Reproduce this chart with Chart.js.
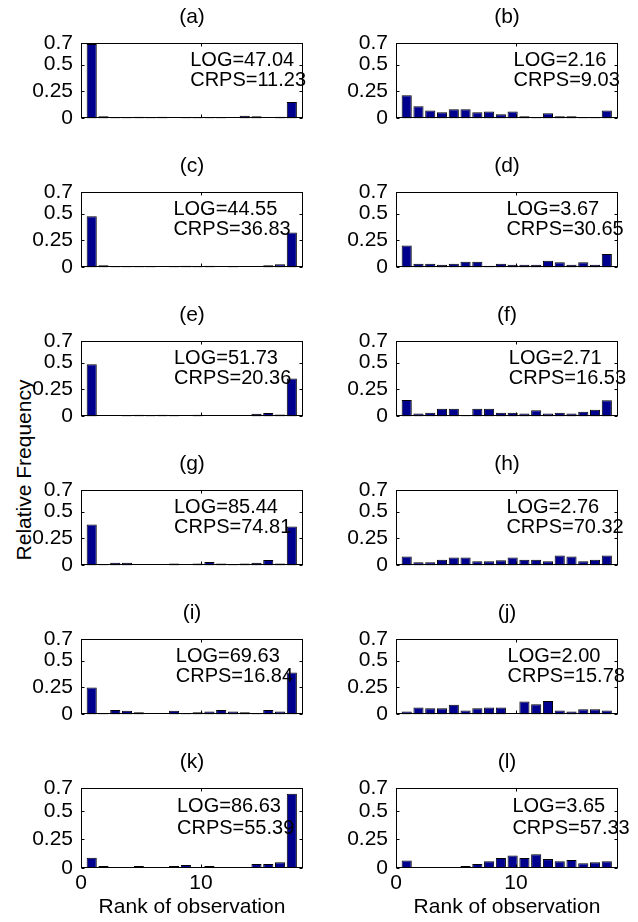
<!DOCTYPE html>
<html>
<head>
<meta charset="utf-8" />
<style>
  body { margin: 0; background: #fff; }
  #fig { position: relative; width: 638px; height: 922px; overflow: hidden; background: #fff;
         font-family: "Liberation Sans", Arial, sans-serif; }
  #fig canvas { position: absolute; }
  .ylab { position: absolute; left: 24px; top: 470px; transform: translate(-50%, -50%) rotate(-90deg);
          font-size: 21px; white-space: nowrap; color: #000; }
</style>
</head>
<body>
<div id="fig">
  <div class="ylab">Relative Frequency</div>
</div>

<script src="https://cdn.jsdelivr.net/npm/chart.js"></script>
<script>
// rank histogram data, one array per panel
const ranks = [1, 2, 3, 4, 5, 6, 7, 8, 9, 10, 11, 12, 13, 14, 15, 16, 17, 18];
const panelNames = ['(a)', '(b)', '(c)', '(d)', '(e)', '(f)', '(g)', '(h)', '(i)', '(j)', '(k)', '(l)'];
const logScores = ['47.04', '2.16', '44.55', '3.67', '51.73', '2.71', '85.44', '2.76', '69.63', '2.00', '86.63', '3.65'];
const crpsScores = ['11.23', '9.03', '36.83', '30.65', '20.36', '16.53', '74.81', '70.32', '16.84', '15.78', '55.39', '57.33'];
const yTicks = [0, 0.25, 0.5, 0.7];
const xTicks = [0, 10];

const freqA = [0.69, 0.02, 0.003, 0.003, 0.015, 0.003, 0.015, 0, 0.003, 0.003, 0.003, 0.003, 0, 0.025, 0.02, 0, 0.015, 0.153];
const freqB = [0.215, 0.112, 0.074, 0.056, 0.085, 0.085, 0.056, 0.065, 0.038, 0.065, 0.02, 0.012, 0.047, 0.02, 0.02, 0.012, 0.012, 0.074];
const freqC = [0.476, 0.02, 0.003, 0.003, 0.003, 0.003, 0, 0.003, 0.015, 0.005, 0.015, 0, 0.003, 0, 0, 0.02, 0.03, 0.324];
const freqD = [0.203, 0.035, 0.035, 0.024, 0.035, 0.053, 0.053, 0.015, 0.035, 0.024, 0.024, 0.024, 0.062, 0.047, 0.024, 0.047, 0.024, 0.124];
const freqE = [0.485, 0, 0, 0.01, 0.015, 0.01, 0.015, 0.01, 0, 0.015, 0, 0, 0, 0, 0.024, 0.032, 0.018, 0.353];
const freqF = [0.153, 0.026, 0.035, 0.07, 0.07, 0.01, 0.07, 0.07, 0.035, 0.035, 0.026, 0.056, 0.026, 0.035, 0.026, 0.044, 0.062, 0.15];
const freqG = [0.38, 0.01, 0.024, 0.024, 0, 0, 0, 0.018, 0, 0.018, 0.032, 0.018, 0.009, 0.018, 0.024, 0.05, 0.018, 0.36];
const freqH = [0.082, 0.03, 0.03, 0.053, 0.074, 0.074, 0.038, 0.038, 0.047, 0.074, 0.053, 0.053, 0.038, 0.091, 0.082, 0.038, 0.053, 0.091];
const freqI = [0.25, 0.014, 0.04, 0.033, 0.02, 0, 0, 0.033, 0.01, 0.02, 0.028, 0.04, 0.028, 0.02, 0.005, 0.04, 0.028, 0.39];
const freqJ = [0.028, 0.065, 0.056, 0.056, 0.09, 0.036, 0.056, 0.065, 0.065, 0, 0.12, 0.095, 0.125, 0.036, 0.028, 0.048, 0.048, 0.036];
const freqK = [0.09, 0.018, 0.003, 0.009, 0.018, 0.003, 0.003, 0.018, 0.027, 0.003, 0.018, 0.009, 0.009, 0.009, 0.036, 0.036, 0.05, 0.65];
const freqL = [0.066, 0.009, 0.003, 0.009, 0.003, 0.018, 0.036, 0.06, 0.087, 0.11, 0.087, 0.12, 0.078, 0.06, 0.069, 0.042, 0.05, 0.06];

const allFreqs = [freqA, freqB, freqC, freqD, freqE, freqF, freqG, freqH, freqI, freqJ, freqK, freqL];

// where the LOG / CRPS text starts, in rank units of the tick axis
const noteX = [9.1, 9.8, 7.7, 9.2, 7.75, 9.4, 7.75, 9.2, 7.9, 9.3, 8.0, 9.7];

const FONT = '"Liberation Sans", Arial, sans-serif';

// box, inward tick marks, panel title and the score text
const framePlugin = {
    id: 'frame',
    afterDatasetsDraw(chart, args, opts) {
        const ctx = chart.ctx;
        const a = chart.chartArea;
        const x0 = Math.round(a.left) + 0.5, x1 = Math.round(a.right) - 0.5;
        const y0 = Math.round(a.top) + 0.5, y1 = Math.round(a.bottom) - 0.5;
        ctx.save();
        ctx.strokeStyle = '#000';
        ctx.lineWidth = 1;
        ctx.strokeRect(x0, y0, x1 - x0, y1 - y0);
        ctx.beginPath();
        yTicks.forEach(v => {
            const py = Math.round(chart.scales.y.getPixelForValue(v)) + 0.5;
            ctx.moveTo(x0, py); ctx.lineTo(x0 + 3, py);
            ctx.moveTo(x1, py); ctx.lineTo(x1 - 3, py);
        });
        xTicks.forEach(v => {
            const px = Math.round(chart.scales.xt.getPixelForValue(v)) + 0.5;
            ctx.moveTo(px, y1); ctx.lineTo(px, y1 - 3);
            ctx.moveTo(px, y0); ctx.lineTo(px, y0 + 3);
        });
        ctx.stroke();

        ctx.fillStyle = '#000';
        ctx.textBaseline = 'middle';
        ctx.font = '21px ' + FONT;
        ctx.textAlign = 'center';
        ctx.fillText(opts.title, (a.left + a.right) / 2, a.top - 26);

        ctx.font = '20px ' + FONT;
        ctx.textAlign = 'left';
        const tx = chart.scales.xt.getPixelForValue(opts.noteX);
        ctx.fillText('LOG=' + opts.log, tx, chart.scales.y.getPixelForValue(0.54));
        ctx.fillText('CRPS=' + opts.crps, tx, chart.scales.y.getPixelForValue(0.35));
        ctx.restore();
    }
};

const fig = document.getElementById('fig');

allFreqs.forEach((freq, p) => {
    const col = p % 2;
    const row = Math.floor(p / 2);
    const bottomRow = row === 5;
    const boxTop = 43 + row * 149;

    const canvas = document.createElement('canvas');
    const w = col ? 323 : 318;
    const h = bottomRow ? 177 : 139;
    canvas.width = w;
    canvas.height = h;
    canvas.style.left = (col ? 315 : 0) + 'px';
    canvas.style.top = (boxTop - 43) + 'px';
    canvas.style.width = w + 'px';
    canvas.style.height = h + 'px';
    fig.appendChild(canvas);

    new Chart(canvas.getContext('2d'), {
        type: 'bar',
        data: {
            datasets: [{
                data: ranks.map((r, i) => ({ x: r, y: freq[i] })),
                backgroundColor: '#00008f',
                borderColor: '#000',
                borderWidth: 1,
                borderSkipped: false,
                barPercentage: 0.86,
                categoryPercentage: 1,
                xAxisID: 'x',
                yAxisID: 'y'
            }]
        },
        options: {
            responsive: false,
            maintainAspectRatio: false,
            animation: false,
            events: [],
            layout: { padding: { left: 0, right: col ? 20 : 15, top: 43, bottom: bottomRow ? 0 : 16 } },
            plugins: {
                legend: { display: false },
                tooltip: { enabled: false },
                title: { display: false },
                frame: { title: panelNames[p], log: logScores[p], crps: crpsScores[p], noteX: noteX[p] }
            },
            scales: {
                x: {
                    type: 'linear',
                    display: false,
                    offset: false,
                    min: 0.09,
                    max: 18.95
                },
                xt: {
                    type: 'linear',
                    position: 'bottom',
                    display: bottomRow,
                    offset: false,
                    min: 0,
                    max: 18.5,
                    grid: { display: false, drawTicks: false },
                    border: { display: false },
                    afterBuildTicks: s => { s.ticks = xTicks.map(v => ({ value: v })); },
                    afterFit: s => { s.height = bottomRow ? 54 : 0; },
                    ticks: {
                        color: '#000',
                        font: { family: FONT, size: 21 },
                        padding: 3,
                        maxRotation: 0,
                        autoSkip: false,
                        callback: v => String(v)
                    },
                    title: {
                        display: true,
                        text: 'Rank of observation',
                        color: '#000',
                        font: { family: FONT, size: 21 },
                        padding: { top: 0, bottom: 2 }
                    }
                },
                y: {
                    type: 'linear',
                    position: 'left',
                    min: 0,
                    max: 0.7,
                    grid: { display: false, drawTicks: false },
                    border: { display: false },
                    afterBuildTicks: s => { s.ticks = yTicks.map(v => ({ value: v })); },
                    afterFit: s => { s.width = 81; },
                    ticks: {
                        color: '#000',
                        font: { family: FONT, size: 21 },
                        padding: 8,
                        autoSkip: false,
                        callback: v => String(v)
                    }
                }
            }
        },
        plugins: [framePlugin]
    });
});
</script>
</body>
</html>
